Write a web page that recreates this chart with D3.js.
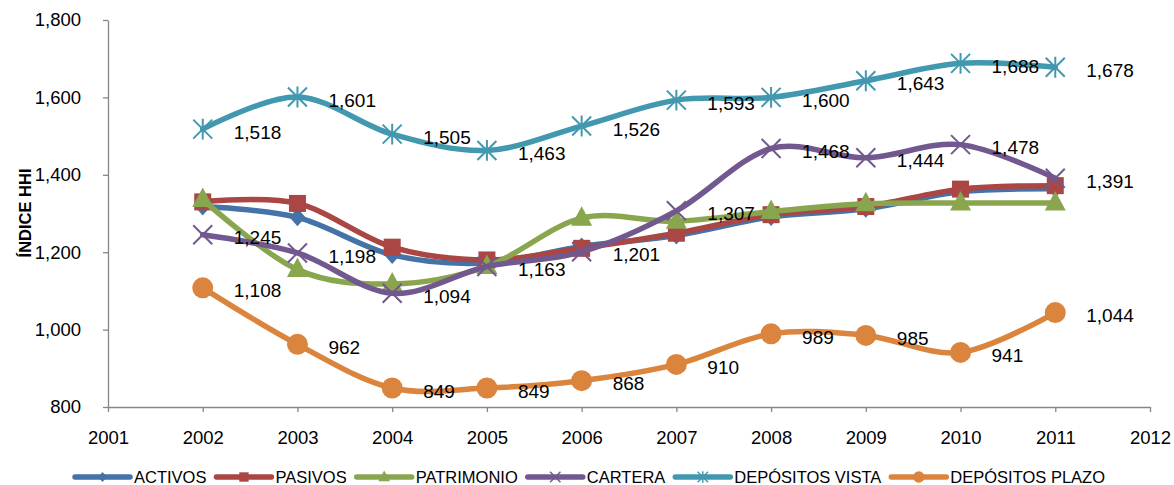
<!DOCTYPE html>
<html>
<head>
<meta charset="utf-8">
<script src="https://cdn.jsdelivr.net/npm/d3@7"></script>
<style>
  html, body { margin: 0; padding: 0; background: #fff; }
  svg { display: block; font-family: "Liberation Sans", Arial, sans-serif; }
</style>
</head>
<body>
<svg id="chart" width="1174" height="485"></svg>
<script>
// ---- data ----
const years = [2002, 2003, 2004, 2005, 2006, 2007, 2008, 2009, 2010, 2011];
const xTicks = [2001, 2002, 2003, 2004, 2005, 2006, 2007, 2008, 2009, 2010, 2011, 2012];
const yTicks = [800, 1000, 1200, 1400, 1600, 1800];
const seriesNames = ["ACTIVOS", "PASIVOS", "PATRIMONIO", "CARTERA", "DEPÓSITOS VISTA", "DEPÓSITOS PLAZO"];
const activos    = [1318, 1290, 1193, 1172, 1215, 1243, 1291, 1312, 1356, 1364];
const pasivos    = [1330, 1326, 1213, 1180, 1210, 1249, 1297, 1318, 1363, 1372];
const patrimonio = [1336, 1155, 1118, 1163, 1288, 1280, 1305, 1325, 1327, 1327];
const cartera    = [1245, 1198, 1094, 1163, 1201, 1307, 1468, 1444, 1478, 1391];
const depVista   = [1518, 1601, 1505, 1463, 1526, 1593, 1600, 1643, 1688, 1678];
const depPlazo   = [1108, 962, 849, 849, 868, 910, 989, 985, 941, 1044];
const yTitle = "ÍNDICE HHI";

const seriesValues = [activos, pasivos, patrimonio, cartera, depVista, depPlazo];
const colors = ["#4572A7", "#AA4643", "#89A54E", "#71588F", "#4198AF", "#DB843D"];
const markers = ["diamond", "square", "triangle", "x", "star", "circle"];
const labeled = [false, false, false, true, true, true];

// ---- layout ----
const W = 1174, H = 485;
const margin = { left: 108, right: 24, top: 20, bottom: 78 };
const svg = d3.select("#chart");
svg.append("rect").attr("width", W).attr("height", H).attr("fill", "#fff");

const x = d3.scaleLinear().domain([2001, 2012]).range([margin.left, W - margin.right]);
const y = d3.scaleLinear().domain([800, 1800]).range([H - margin.bottom, margin.top]);

// axes
const axisColor = "#868686";
const yAxis = svg.append("g")
  .attr("transform", `translate(${margin.left},0)`)
  .call(d3.axisLeft(y).tickValues(yTicks).tickFormat(d3.format(",")).tickSize(5).tickSizeOuter(0).tickPadding(22));
const xAxis = svg.append("g")
  .attr("transform", `translate(0,${H - margin.bottom})`)
  .call(d3.axisBottom(x).tickValues(xTicks).tickFormat(d3.format("d")).tickSize(5).tickSizeOuter(0).tickPadding(19));
[yAxis, xAxis].forEach(g => {
  g.select(".domain").attr("stroke", axisColor).attr("stroke-width", 1.3);
  g.selectAll(".tick line").attr("stroke", axisColor).attr("stroke-width", 1.3);
  g.selectAll(".tick text").attr("fill", "#000").style("font-size", "18.5px")
    .style("font-family", "'Liberation Sans', Arial, sans-serif");
});

// y title
svg.append("text")
  .attr("transform", `translate(25,213) rotate(-90)`)
  .attr("text-anchor", "middle")
  .attr("dominant-baseline", "central")
  .style("font-weight", "bold")
  .style("font-size", "16.5px")
  .attr("fill", "#000")
  .text(yTitle);

// marker drawing
function drawMarker(g, type, color, s) {
  s = s || 1;
  if (type === "diamond") {
    g.append("path").attr("d", `M0,${-9*s}L${8*s},0L0,${9*s}L${-8*s},0Z`).attr("fill", color);
  } else if (type === "square") {
    const h = 8.5 * s;
    g.append("rect").attr("x", -h).attr("y", -h).attr("width", 2*h).attr("height", 2*h).attr("fill", color);
  } else if (type === "triangle") {
    g.append("path").attr("d", `M0,${-12*s}L${10.5*s},${7.5*s}L${-10.5*s},${7.5*s}Z`).attr("fill", color);
  } else if (type === "x") {
    const r = 9.5 * s;
    g.append("path").attr("d", `M${-r},${-r}L${r},${r}M${-r},${r}L${r},${-r}`)
      .attr("stroke", color).attr("stroke-width", 2 * Math.max(s, 0.7)).attr("fill", "none");
  } else if (type === "star") {
    const r = 9.5 * s;
    g.append("path").attr("d", `M${-r},${-r}L${r},${r}M${-r},${r}L${r},${-r}M0,${-r*1.1}L0,${r*1.1}`)
      .attr("stroke", color).attr("stroke-width", 2 * Math.max(s, 0.7)).attr("fill", "none");
  } else if (type === "circle") {
    g.append("circle").attr("r", 10.5 * s).attr("fill", color);
  }
}

const line = d3.line()
  .x((d, i) => x(years[i]))
  .y(d => y(d))
  .curve(d3.curveCardinal.tension(0));

const plot = svg.append("g");
seriesValues.forEach((vals, si) => {
  const g = plot.append("g");
  g.append("path").datum(vals).attr("d", line)
    .attr("fill", "none").attr("stroke", colors[si]).attr("stroke-width", 5.5)
    .attr("stroke-linejoin", "round").attr("stroke-linecap", "round");
  vals.forEach((v, i) => {
    const mg = g.append("g").attr("transform", `translate(${x(years[i])},${y(v)})`);
    drawMarker(mg, markers[si], colors[si], 1);
  });
});

// data labels
const fmt = d3.format(",");
const labelsG = svg.append("g");
seriesValues.forEach((vals, si) => {
  if (!labeled[si]) return;
  vals.forEach((v, i) => {
    labelsG.append("text")
      .attr("x", x(years[i]) + 31)
      .attr("y", y(v) + 3)
      .attr("dy", "0.35em")
      .style("font-size", "19px")
      .attr("fill", "#000")
      .text(fmt(v));
  });
});

// legend
const legend = svg.append("g");
const legY = 477;
const sampleLen = 55, textGap = 4, itemGap = 10;
const items = [];
seriesNames.forEach((name, si) => {
  const g = legend.append("g");
  g.append("line").attr("x1", 0).attr("x2", sampleLen).attr("y1", 0).attr("y2", 0)
    .attr("stroke", colors[si]).attr("stroke-width", 5.5).attr("stroke-linecap", "round");
  const mg = g.append("g").attr("transform", `translate(${sampleLen/2},0)`);
  drawMarker(mg, markers[si], colors[si], 0.55);
  const t = g.append("text").attr("x", sampleLen + textGap).attr("y", 0).attr("dy", "0.35em")
    .style("font-size", "16.5px").attr("fill", "#000").text(name);
  const w = sampleLen + textGap + t.node().getComputedTextLength();
  items.push({ g, w });
});
const total = d3.sum(items, d => d.w) + itemGap * (items.length - 1);
let start = 590 - total / 2;
items.forEach(it => {
  it.g.attr("transform", `translate(${start},${legY})`);
  start += it.w + itemGap;
});
</script>
</body>
</html>
